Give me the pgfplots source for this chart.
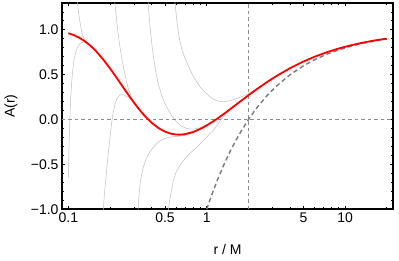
\documentclass[border=0pt]{standalone}
\usepackage{fontspec}
\setmainfont{Liberation Sans}
\usepackage{pgfplots}
\pgfplotsset{compat=1.18}
\definecolor{thingray}{HTML}{BDBDBD}
\definecolor{schw}{HTML}{7A7A7A}
\definecolor{refgray}{HTML}{8C8C8C}
\begin{document}
\begin{tikzpicture}
\begin{axis}[
  scale only axis, width=331pt, height=206.3pt,
  xmode=log, log basis x=10,
  xmin=0.09, xmax=22.2, ymin=-1, ymax=1.3,
  xtick={0.1,0.5,1,5,10}, xticklabels={0.1,0.5,1,5,10},
  minor xtick={0.2,0.3,0.4,0.6,0.7,0.8,0.9,2,3,4,6,7,8,9,20},
  ytick={-1,-0.5,0,0.5,1}, yticklabels={−1.0,−0.5,0.0,0.5,1.0},
  minor ytick={-0.9,-0.8,-0.7,-0.6,-0.4,-0.3,-0.2,-0.1,0.1,0.2,0.3,0.4,0.6,0.7,0.8,0.9,1.1,1.2},
  tick align=inside, major tick length=3.5pt, minor tick length=2pt,
  every tick/.style={black, line width=0.9pt},
  axis line style={line width=1.6pt},
  tick label style={font=\fontsize{14}{16}\selectfont},
  label style={font=\fontsize{14}{16}\selectfont},
  xlabel={r / M}, ylabel={A(r)},
  xlabel style={at={(axis description cs:0.5,-0.197)}, anchor=center},
  ylabel style={at={(axis description cs:-0.154,0.5)}, anchor=center},
  every axis plot/.append style={line join=round},
]
% thin gray family
\addplot[thingray, line width=0.5pt] coordinates {(0.1155,1.35) (0.118,1.22) (0.12,1.14) (0.122,1.07) (0.125,0.98) (0.128,0.925) (0.132,0.883) (0.136,0.86) (0.14,0.842) (0.15,0.80)};
\addplot[thingray, line width=0.5pt] coordinates {(0.1,-0.65) (0.101,-0.35) (0.102,-0.1) (0.104,0.25) (0.107,0.52) (0.11,0.67) (0.114,0.77) (0.118,0.825) (0.123,0.855) (0.128,0.865) (0.133,0.86) (0.14,0.838) (0.15,0.799)};
\addplot[thingray, line width=0.5pt] coordinates {(0.215,1.35) (0.217,1.30) (0.222,1.15) (0.228,0.98) (0.235,0.83) (0.243,0.69) (0.252,0.56) (0.262,0.44) (0.272,0.34) (0.285,0.25) (0.3,0.19) (0.33,0.103)};
\addplot[thingray, line width=0.5pt] coordinates {(0.178,-1.05) (0.183,-0.8) (0.189,-0.57) (0.195,-0.36) (0.2,-0.2) (0.206,-0.03) (0.211,0.08) (0.218,0.18) (0.226,0.24) (0.235,0.27) (0.244,0.28) (0.255,0.272) (0.265,0.255) (0.275,0.24) (0.285,0.224) (0.3,0.181) (0.33,0.1)};
\addplot[thingray, line width=0.5pt] coordinates {(0.376,1.35) (0.378,1.30) (0.385,1.13) (0.395,0.94) (0.405,0.79) (0.415,0.67) (0.43,0.52) (0.45,0.38) (0.48,0.24) (0.514,0.14) (0.55,0.06) (0.6,-0.02) (0.65,-0.07) (0.72,-0.10) (0.8,-0.108) (0.9,-0.09) (1.0,-0.058) (1.1,-0.022) (1.2,0.015)};
\addplot[thingray, line width=0.5pt] coordinates {(0.585,1.35) (0.59,1.30) (0.61,1.09) (0.635,0.9) (0.665,0.77) (0.7,0.68) (0.75,0.57) (0.8,0.48) (0.9,0.36) (1.0,0.285) (1.1,0.235) (1.2,0.207) (1.3,0.198) (1.4,0.205) (1.5,0.215) (1.65,0.235) (1.8,0.255) (2.0,0.288) (2.3,0.345) (2.6,0.399) (3.0,0.461)};
\addplot[thingray, line width=0.5pt] coordinates {(0.318,-1.05) (0.322,-0.9) (0.33,-0.72) (0.34,-0.6) (0.348,-0.53) (0.365,-0.44) (0.385,-0.37) (0.411,-0.31) (0.44,-0.26) (0.486,-0.215) (0.54,-0.195) (0.6,-0.188) (0.641,-0.185) (0.7,-0.175) (0.75,-0.162) (0.8,-0.146) (0.85,-0.128) (0.9,-0.108) (1.0,-0.067)};
\addplot[thingray, line width=0.5pt] coordinates {(0.525,-1.05) (0.54,-0.9) (0.555,-0.8) (0.573,-0.68) (0.6,-0.59) (0.64,-0.51) (0.677,-0.457) (0.75,-0.38) (0.847,-0.31) (0.95,-0.23) (1.05,-0.16) (1.116,-0.12) (1.2,-0.055) (1.3,0.02) (1.4,0.078) (1.5,0.12) (1.7,0.186) (2.0,0.27)};
% reference lines
\addplot[refgray, line width=0.8pt, dash pattern=on 3.5pt off 3pt] coordinates {(0.09,0) (22.2,0)};
\addplot[refgray, line width=0.8pt, dash pattern=on 3.5pt off 3pt] coordinates {(2,-1) (2,1.3)};
% Schwarzschild
\addplot[schw, line width=1.4pt, dash pattern=on 4.5pt off 3pt] coordinates {(1,-1) (1.05,-0.9048) (1.1,-0.8182) (1.2,-0.6667) (1.35,-0.4815) (1.5,-0.3333) (1.7,-0.1765) (2,0) (2.3,0.1304) (2.7,0.2593) (3.2,0.375) (4,0.5) (5,0.6) (6,0.6667) (7.5,0.7333) (9,0.7778) (11,0.8182) (13.5,0.8519) (16.5,0.8788) (20,0.9)};
% regular solution
\addplot[red, line width=1.8pt] coordinates {(0.1,0.9633) (0.11,0.9408) (0.12,0.9125) (0.13,0.8791) (0.14,0.8413) (0.15,0.8001) (0.16,0.7563) (0.18,0.6645) (0.2,0.5715) (0.22,0.4813) (0.24,0.3963) (0.26,0.3181) (0.28,0.2471) (0.3,0.1836) (0.33,0.1017) (0.36,0.0346) (0.4,-0.0350) (0.45,-0.0960) (0.5,-0.1346) (0.55,-0.1567) (0.6,-0.1665) (0.63,-0.1679) (0.65,-0.1673) (0.7,-0.1616) (0.8,-0.1375) (0.9,-0.1035) (1.0,-0.0652) (1.1,-0.0254) (1.2,0.0141) (1.35,0.0710) (1.5,0.1239) (1.7,0.1879) (2.0,0.2702) (2.3,0.3388) (2.7,0.4134) (3.2,0.4867) (4,0.5729) (5,0.6474) (6,0.6999) (7.5,0.7548) (9,0.7928) (11,0.8283) (13.5,0.8586) (16.5,0.8833) (20,0.9031)};
\end{axis}
\pgfresetboundingbox
\path[use as bounding box] ([xshift=-62pt,yshift=-51.7pt]current axis.south west) rectangle ([xshift=6pt,yshift=3pt]current axis.north east);
\end{tikzpicture}
\end{document}
